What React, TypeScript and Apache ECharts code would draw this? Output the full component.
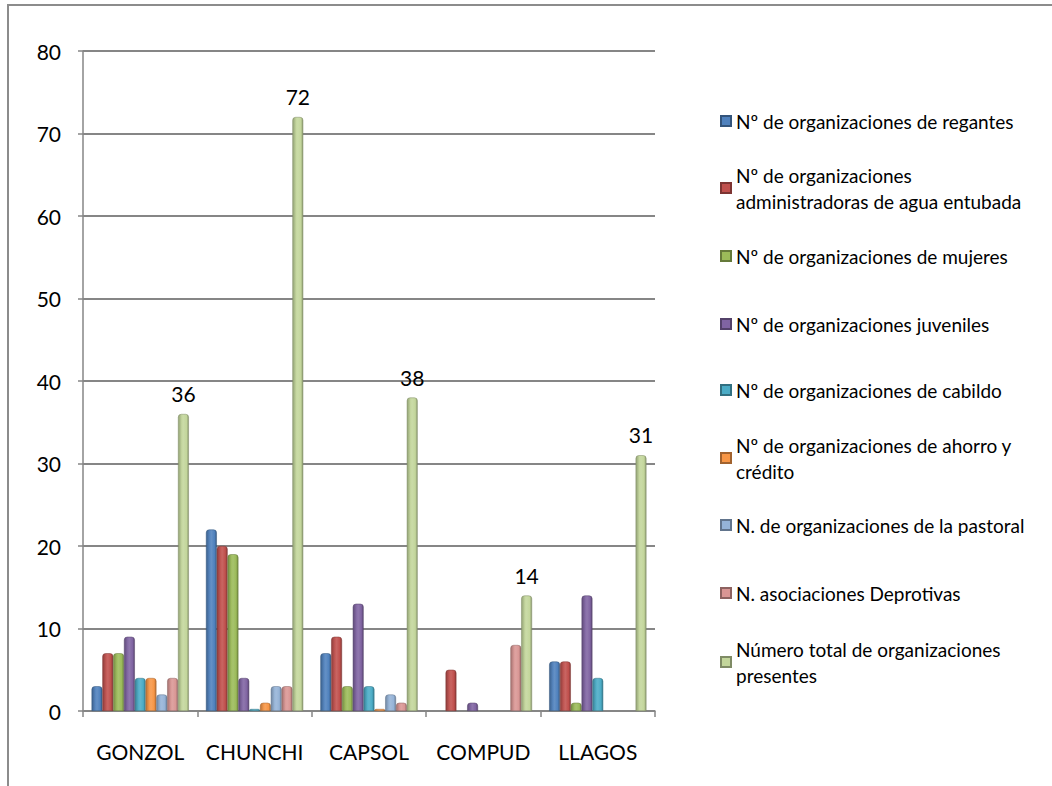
import React, { useEffect, useRef } from "react";
import * as echarts from "echarts";

const categories = ["GONZOL", "CHUNCHI", "CAPSOL", "COMPUD", "LLAGOS"];

const seriesNames = [
  "Nº de organizaciones de regantes",
  "Nº de organizaciones\nadministradoras de agua entubada",
  "Nº de organizaciones de mujeres",
  "Nº de organizaciones juveniles",
  "Nº de organizaciones de cabildo",
  "Nº de organizaciones de ahorro y\ncrédito",
  "N. de organizaciones de la pastoral",
  "N. asociaciones Deprotivas",
  "Número total de organizaciones\npresentes",
];

const regantes = [3, 22, 7, null, 6];
const aguaEntubada = [7, 20, 9, 5, 6];
const mujeres = [7, 19, 3, null, 1];
const juveniles = [9, 4, 13, 1, 14];
const cabildo = [4, 0, 3, null, 4];
const ahorroCredito = [4, 1, 0, null, null];
const pastoral = [2, 3, 2, null, null];
const deportivas = [4, 3, 1, 8, null];
const total = [36, 72, 38, 14, 31];

const seriesValues = [regantes, aguaEntubada, mujeres, juveniles, cabildo, ahorroCredito, pastoral, deportivas, total];

const colors = ["#4F81BD", "#C0504D", "#9BBB59", "#8064A2", "#4BACC6", "#F79646", "#95B3D7", "#D99694", "#C3D69B"];

const yTicks = { min: 0, max: 80, interval: 10 };

const legendLineY = [116, 183, 251, 319, 385, 453, 520, 588, 657];

function shade(hex: string, f: number) {
  const n = parseInt(hex.slice(1), 16);
  let r = (n >> 16) & 255, g = (n >> 8) & 255, b = n & 255;
  if (f < 0) {
    r = Math.round(r * (1 + f)); g = Math.round(g * (1 + f)); b = Math.round(b * (1 + f));
  } else {
    r = Math.round(r + (255 - r) * f); g = Math.round(g + (255 - g) * f); b = Math.round(b + (255 - b) * f);
  }
  return "rgb(" + r + "," + g + "," + b + ")";
}

function cylinder(c: string) {
  return {
    type: "linear", x: 0, y: 0, x2: 1, y2: 0,
    colorStops: [
      { offset: 0, color: shade(c, -0.25) },
      { offset: 0.35, color: shade(c, 0.05) },
      { offset: 0.5, color: shade(c, 0.12) },
      { offset: 0.8, color: c },
      { offset: 1, color: shade(c, -0.3) },
    ],
  };
}

const FONT = "Lato, 'Noto Sans', sans-serif";
const LH = 26;

export default function App() {
  const ref = useRef<HTMLDivElement>(null);
  useEffect(() => {
    if (!ref.current) return;
    const chart = echarts.init(ref.current, null, { renderer: "svg" });
    const legends = seriesNames.map((name, i) => {
      const twoLine = name.indexOf("\n") >= 0;
      return {
        orient: "vertical",
        left: 715,
        top: legendLineY[i] - (twoLine ? 1.5 * LH : LH / 2),
        itemWidth: 10,
        itemHeight: 10,
        icon: "rect",
        selectedMode: false,
        data: [{ name, itemStyle: { color: colors[i] } }],
        textStyle: {
          fontFamily: FONT,
          fontSize: 19,
          color: "#000",
          lineHeight: LH,
          padding: twoLine ? [LH, 0, 0, 0] : 0,
        },
      };
    });
    chart.setOption({
      animation: false,
      backgroundColor: "#fff",
      textStyle: { fontFamily: FONT },
      grid: { left: 83, right: 397, top: 51, bottom: 75, containLabel: false },
      legend: legends,
      xAxis: {
        type: "category",
        data: categories,
        axisLine: { lineStyle: { color: "#868686", width: 1.5 } },
        axisTick: { show: true, length: 6, lineStyle: { color: "#868686", width: 1.5 } },
        axisLabel: { interval: 0, fontSize: 21, color: "#000", margin: 30, fontFamily: FONT },
      },
      yAxis: {
        type: "value",
        min: yTicks.min,
        max: yTicks.max,
        interval: yTicks.interval,
        axisLine: { show: true, lineStyle: { color: "#868686", width: 1.5 } },
        axisTick: { show: true, length: 5, lineStyle: { color: "#868686", width: 1.5 } },
        axisLabel: { fontSize: 21, color: "#000", margin: 22, fontFamily: FONT },
        splitLine: { lineStyle: { color: "#868686", width: 2 } },
      },
      series: seriesNames.map((name, i) => ({
        name,
        type: "bar",
        data: seriesValues[i],
        barGap: "0%",
        barCategoryGap: "15%",
        barMinHeight: 2,
        color: colors[i],
        itemStyle: {
          color: cylinder(colors[i]),
          borderColor: shade(colors[i], -0.35),
          borderWidth: 0.5,
          borderRadius: [3, 3, 0, 0],
        },
        label: i === seriesNames.length - 1
          ? { show: true, position: "top", distance: 10, fontSize: 21, color: "#000", fontFamily: FONT }
          : { show: false },
      })),
      graphic: [
        {
          type: "polyline",
          shape: { points: [[8, 786], [8, 5], [1052, 5]] },
          style: { stroke: "#8c8c8c", lineWidth: 2, fill: "none" },
          silent: true,
        },
      ],
    });
    return () => chart.dispose();
  }, []);
  return (
    <div
      ref={ref}
      style={{ position: "absolute", left: 0, top: 0, width: 1052, height: 786 }}
    />
  );
}
